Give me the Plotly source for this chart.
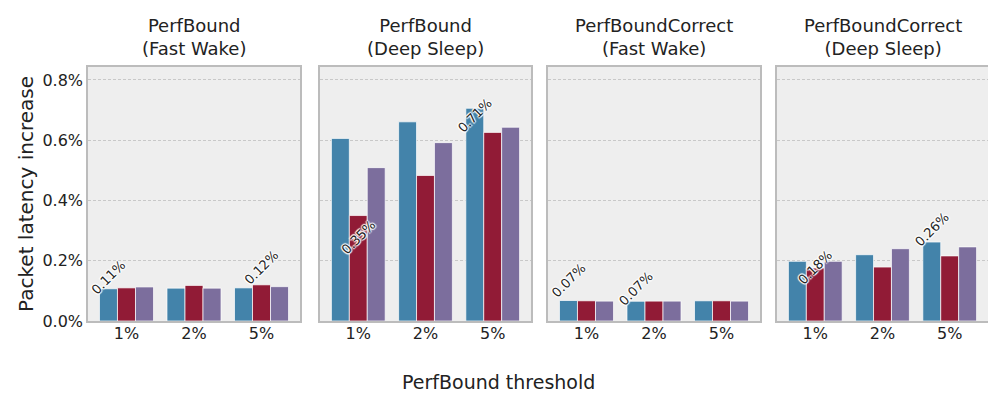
# Packet latency increase per PerfBound threshold, four panels
import plotly.graph_objects as go

thresholds = ["1%", "2%", "5%"]
panels = ["PerfBound<br>(Fast Wake)", "PerfBound<br>(Deep Sleep)",
          "PerfBoundCorrect<br>(Fast Wake)", "PerfBoundCorrect<br>(Deep Sleep)"]
series_names = ["A", "B", "C"]

# values in percent, [series][threshold] for each panel
pb_fast = [[0.107, 0.109, 0.110], [0.110, 0.118, 0.120], [0.113, 0.109, 0.114]]
pb_deep = [[0.606, 0.661, 0.706], [0.350, 0.483, 0.626], [0.509, 0.592, 0.643]]
pbc_fast = [[0.068, 0.0655, 0.067], [0.067, 0.066, 0.067], [0.066, 0.066, 0.066]]
pbc_deep = [[0.198, 0.220, 0.262], [0.176, 0.179, 0.216], [0.198, 0.240, 0.246]]
panel_values = [pb_fast, pb_deep, pbc_fast, pbc_deep]

colors = ["#4383aa", "#911b36", "#7c6e9d"]

# pixel shift of min/max labels from bar top: (min label, max label)
label_shifts = [(11, 17), (-22, -7), (13, 20), (0, 13)]

# the page body adds an 8px margin, so the figure is 8px smaller
OFF = 8
W, H = 996 - OFF, 399 - OFF
L, R, T = 88 - OFF, 8, 67 - OFF
B = H - (321 - OFF)
PW, PH = W - L - R, H - T - B
domains = [(88, 300), (320, 531), (548, 760), (777, 988)]

fig = go.Figure()
offsets = [-0.2667, 0.0, 0.2667]
halo = ("1px 1px 1px white, -1px -1px 1px white, 1px -1px 1px white, "
        "-1px 1px 1px white, 0 0 2px white")

for p, vals in enumerate(panel_values):
    ax = "" if p == 0 else str(p + 1)
    for s, name in enumerate(series_names):
        fig.add_trace(go.Bar(
            x=thresholds, y=vals[s], name=name, marker_color=colors[s],
            marker_line=dict(color="rgba(255,255,255,0.7)", width=1),
            xaxis="x" + ax, yaxis="y" + ax, showlegend=False,
            offsetgroup=str(s)))
    # label the lowest and highest bar of the panel
    flat = [(vals[s][t], s, t) for s in range(3) for t in range(3)]
    lo = min(flat)
    hi = max(flat)
    for (v, s, t), shift in zip([lo, hi], label_shifts[p]):
        fig.add_annotation(
            x=t + offsets[s], y=v, xref="x" + ax, yref="y" + ax,
            text="%.2f%%" % v, showarrow=False, textangle=-45,
            yshift=shift,
            font=dict(family="DejaVu Sans", size=13, color="#222222",
                      shadow=halo))
    d0, d1 = domains[p]
    fig.update_layout(**{
        "xaxis" + ax: dict(domain=[(d0 - 88) / PW, (d1 - 88) / PW],
                           range=[-0.57, 2.57], showline=True, mirror=True,
                           linecolor="#bcbcbc", linewidth=1.5, showgrid=False,
                           ticks="", tickfont=dict(size=16, color="#222222"),
                           ticklabelstandoff=-3,
                           anchor="y" + ax, automargin=False),
        "yaxis" + ax: dict(range=[0, 0.843], showline=True, mirror=True,
                           linecolor="#bcbcbc", linewidth=1.5,
                           showgrid=True, gridcolor="#c8c8c8", griddash="3px,2px",
                           gridwidth=0.8, zeroline=False, ticks="",
                           tickvals=[0, 0.2, 0.4, 0.6, 0.8],
                           ticktext=["0.0%", "0.2%", "0.4%", "0.6%", "0.8%"],
                           showticklabels=(p == 0),
                           tickfont=dict(size=16, color="#222222"),
                           anchor="x" + ax, automargin=False),
    })
    fig.add_annotation(x=((d0 + d1) / 2 - 88) / PW, y=1.0, xref="paper", yref="paper",
                       text=panels[p], showarrow=False, xanchor="center",
                       yanchor="bottom", yshift=6,
                       font=dict(size=18, color="#222222"))

fig.update_layout(
    width=W, height=H,
    margin=dict(l=L, r=R, t=T, b=B),
    barmode="group", bargap=0.2, bargroupgap=0.0,
    plot_bgcolor="#eeeeee", paper_bgcolor="white",
    font=dict(family="DejaVu Sans", color="#222222"),
)
fig.update_layout(yaxis_title=dict(text="Packet latency increase",
                                   font=dict(size=20), standoff=3))
fig.add_annotation(x=(498 - 88) / PW, y=(321 - 382) / PH, xref="paper", yref="paper",
                   text="PerfBound threshold", showarrow=False,
                   xanchor="center", yanchor="middle",
                   font=dict(size=19, color="#222222"))

fig.write_html("out.html")
